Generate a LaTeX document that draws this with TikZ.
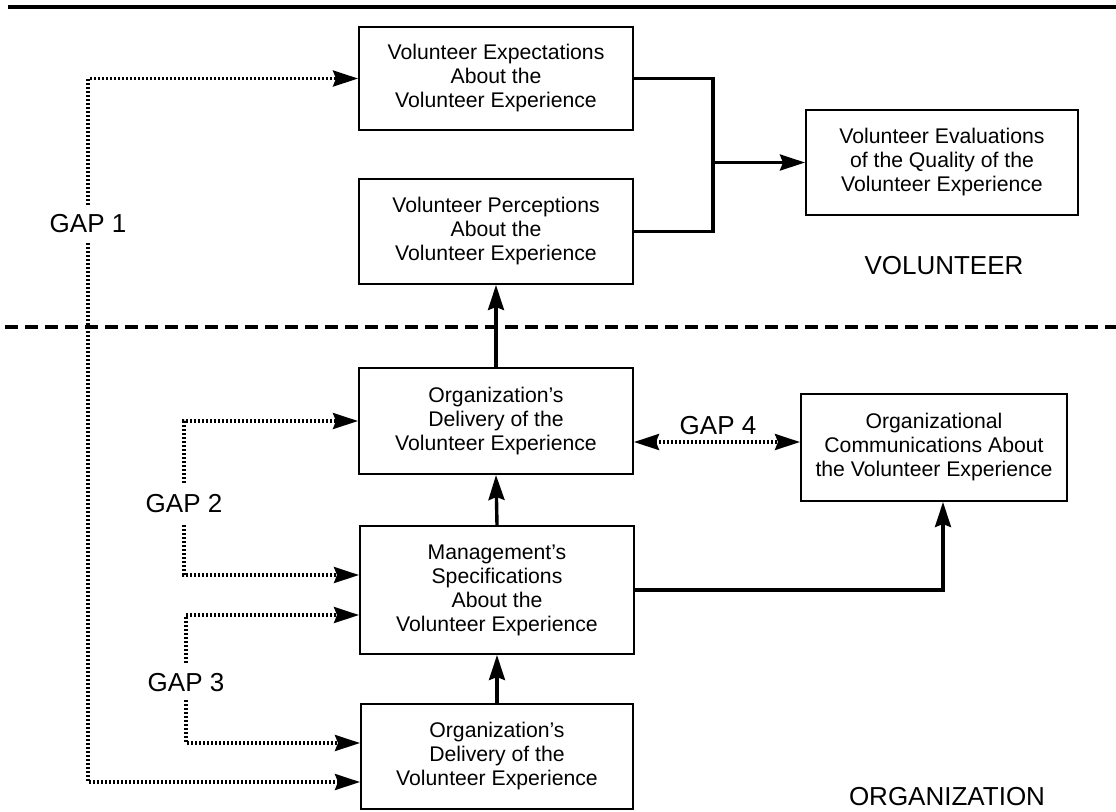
\documentclass[tikz,border=0pt]{standalone}
\usepackage{fontspec}
\setmainfont{Liberation Sans}
\usetikzlibrary{arrows.meta,calc}
\begin{document}
\begin{tikzpicture}[x=0.5pt,y=-0.5pt,
  box/.style={draw,line width=1pt,align=center,inner sep=0pt,
    font=\fontsize{10.6}{12}\selectfont},
  lab/.style={inner sep=0pt,font=\fontsize{13}{15}\selectfont},
  tip/.style={-{Stealth[length=12.5pt,width=8pt,inset=1.5pt]}},
  dtip/.style={{Stealth[length=12.5pt,width=8pt,inset=1.5pt]}-{Stealth[length=12.5pt,width=8pt,inset=1.5pt]}},
  conn/.style={line width=1.7pt},
  dotl/.style={line width=1.6pt,dash pattern=on 1pt off 1pt},
]
\useasboundingbox (0,0) rectangle (1116,811);

% rules
\draw[line width=2pt] (8,7) -- (1116,7);
\draw[line width=2.2pt,dash pattern=on 6.5pt off 3.5pt] (5,327) -- (1116,327);

% boxes
\node[box,minimum width=137pt,minimum height=51.5pt] (exp) at (496,78.5)
  {Volunteer Expectations\\About the\\Volunteer Experience};
\node[box,minimum width=137pt,minimum height=52.5pt] (per) at (496,231.5)
  {Volunteer Perceptions\\About the\\Volunteer Experience};
\node[box,minimum width=136pt,minimum height=52.5pt] (eval) at (942,162.5)
  {Volunteer Evaluations\\of the Quality of the\\Volunteer Experience};
\node[box,minimum width=137pt,minimum height=53pt] (org1) at (496,421)
  {Organization's\\Delivery of the\\Volunteer Experience};
\node[box,minimum width=133pt,minimum height=53.5pt] (comm) at (934,447.5)
  {Organizational\\Communications About\\the Volunteer Experience};
\node[box,minimum width=137pt,minimum height=64pt] (mgmt) at (497,590)
  {Management's\\Specifications\\About the\\Volunteer Experience};
\node[box,minimum width=136pt,minimum height=52.5pt] (org2) at (497,756.5)
  {Organization's\\Delivery of the\\Volunteer Experience};

% labels
\node[lab] (vol) at (944,266) {VOLUNTEER};
\node[lab] (orgl) at (947,797) {ORGANIZATION};
\node[lab] (g1) at (88,224) {GAP 1};
\node[lab] (g2) at (184,504) {GAP 2};
\node[lab] (g3) at (186,683) {GAP 3};
\node[lab] (g4) at (718,426) {GAP 4};

% solid connectors
\coordinate (bj) at (713,0);
\draw[conn] (exp.east) -- (exp.east -| bj) -- (per.east -| bj) -- (per.east);
\draw[conn,tip] (bj |- eval.west) -- (eval.west);
\draw[conn,tip] (org1.north) -- (per.south);
\draw[conn,tip] (mgmt.north) -- (org1.south);
\draw[conn,tip] (org2.north) -- (mgmt.south);
\draw[conn,tip] (mgmt.east) -| ([xshift=4.5pt]comm.south);

% gap connectors
\coordinate (y4) at (0,442);
\draw[dotl,dtip] (org1.east |- y4) -- (comm.west |- y4);
\draw[dotl,tip] ([yshift=9.5pt]g1.center) |- (exp.west);
\draw[dotl,tip] ([yshift=-9.5pt]g1.center) |- ([yshift=-12.75pt]org2.west);
\draw[dotl,tip] ([yshift=10.5pt]g2.center) |- (org1.west);
\draw[dotl,tip] ([yshift=-10.5pt]g2.center) |- ([yshift=7.5pt]mgmt.west);
\draw[dotl,tip] ([yshift=10pt]g3.center) |- ([yshift=-12.5pt]mgmt.west);
\draw[dotl,tip] ([yshift=-8.5pt]g3.center) |- ([yshift=6.75pt]org2.west);
\end{tikzpicture}
\end{document}
